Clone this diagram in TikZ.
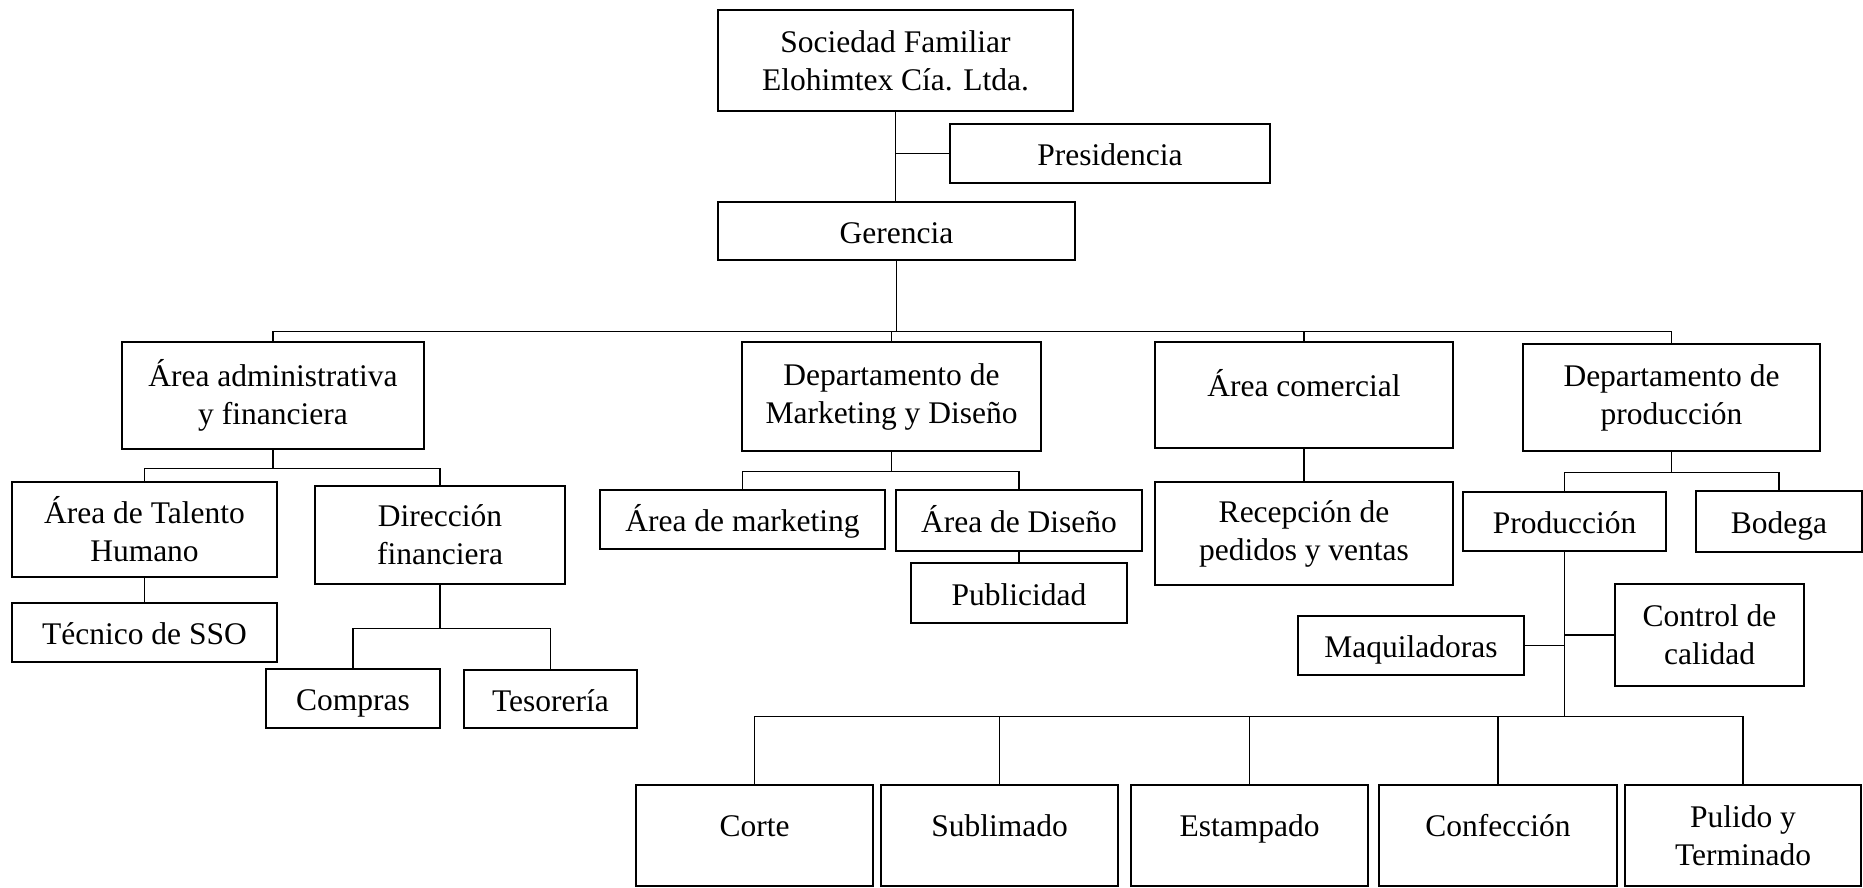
\documentclass[tikz,border=0pt]{standalone}
\usepackage{fontspec}
\setmainfont{Liberation Serif}
\begin{document}
\begin{tikzpicture}[x=1pt,y=-1pt,
        caja/.style={draw, line width=2.2pt, align=center, inner sep=0pt, font=\fontsize{31.5}{38}\selectfont},
        una/.style={text height=24pt, text depth=0pt},
        alta/.style={text height=24pt, text depth=22pt},
        tam/.style 2 args={minimum width=#1pt, minimum height=#2pt},
        linea/.style={line width=1.2pt}]
        \useasboundingbox (0,0) rectangle (1863,887);
        \node[caja, tam={355}{101}] (soc) at (895.5,60.5) {Sociedad Familiar\\Elohimtex Cía. Ltda.};
        \node[caja, una, tam={320}{59}] (pres) at (1110,153.5) {Presidencia};
        \node[caja, una, tam={357}{58}] (ger) at (896.5,231) {Gerencia};
        \node[caja, tam={302}{107}] (adm) at (273,395.5) {Área administrativa\\y financiera};
        \node[caja, tam={299}{109}] (mkt) at (891.5,396.5) {Departamento de\\Marketing y Diseño};
        \node[caja, alta, tam={298}{106}] (com) at (1304,395) {Área comercial};
        \node[caja, tam={297}{107}] (dpro) at (1671.5,397.5) {Departamento de\\producción};
        \node[caja, tam={265}{95}] (tal) at (144.5,529.5) {Área de Talento\\Humano};
        \node[caja, tam={250}{98}] (dir) at (440,535) {Dirección\\financiera};
        \node[caja, una, tam={265}{59}] (sso) at (144.5,632.5) {Técnico de SSO};
        \node[caja, una, tam={174}{59}] (comp) at (353,698.5) {Compras};
        \node[caja, una, tam={173}{58}] (tes) at (550.5,699) {Tesorería};
        \node[caja, una, tam={285}{59}] (amk) at (742.5,519.5) {Área de marketing};
        \node[caja, una, tam={246}{61}] (adis) at (1019,520.5) {Área de Diseño};
        \node[caja, una, tam={216}{60}] (pub) at (1019,593) {Publicidad};
        \node[caja, tam={298}{103}] (rec) at (1304,533.5) {Recepción de\\pedidos y ventas};
        \node[caja, una, tam={203}{59}] (prod) at (1564.5,521.5) {Producción};
        \node[caja, una, tam={166}{61}] (bod) at (1779,521.5) {Bodega};
        \node[caja, una, tam={226}{59}] (maq) at (1411,645.5) {Maquiladoras};
        \node[caja, tam={189}{102}] (ctl) at (1709.5,635) {Control de\\calidad};
        \node[caja, alta, tam={237}{101}] (corte) at (754.5,835.5) {Corte};
        \node[caja, alta, tam={237}{101}] (subl) at (999.5,835.5) {Sublimado};
        \node[caja, alta, tam={237}{101}] (estp) at (1249.5,835.5) {Estampado};
        \node[caja, alta, tam={238}{101}] (conf) at (1498,835.5) {Confección};
        \node[caja, tam={236}{101}] (pul) at (1743,835.5) {Pulido y\\Terminado};
        \draw[linea] (soc.south) -- (soc.south |- ger.north);
        \draw[linea] (pres.west) -- (soc.south |- pres.west);
        \draw[linea] (ger.south) -- ++(0,70) coordinate (b1);
        \draw[linea] (adm.north) |- (b1) -| (dpro.north);
        \draw[linea] (mkt.north) -- (mkt.north |- b1);
        \draw[linea] (com.north) -- (com.north |- b1);
        \draw[linea] (adm.south) -- ++(0,18) coordinate (b2);
        \draw[linea] (tal.north) |- (b2) -| (dir.north);
        \draw[linea] (tal.south) -- (sso.north);
        \draw[linea] (dir.south) -- ++(0,43) coordinate (b3);
        \draw[linea] (comp.north) |- (b3) -| (tes.north);
        \draw[linea] (mkt.south) -- ++(0,19) coordinate (b4);
        \draw[linea] (amk.north) |- (b4) -| (adis.north);
        \draw[linea] (adis.south) -- (pub.north);
        \draw[linea] (com.south) -- (rec.north);
        \draw[linea] (dpro.south) -- ++(0,20) coordinate (b5);
        \draw[linea] (prod.north) |- (b5) -| (bod.north);
        \draw[linea] (prod.south) -- ++(0,164) coordinate (b6);
        \draw[linea] (maq.east) -- (prod.south |- maq.east);
        \draw[linea] (ctl.west) -- (prod.south |- ctl.west);
        \draw[linea] (corte.north) |- (b6) -| (pul.north);
        \foreach \n in {subl,estp,conf}
            \draw[linea] (\n.north) -- (\n.north |- b6);
    \end{tikzpicture}
\end{document}
